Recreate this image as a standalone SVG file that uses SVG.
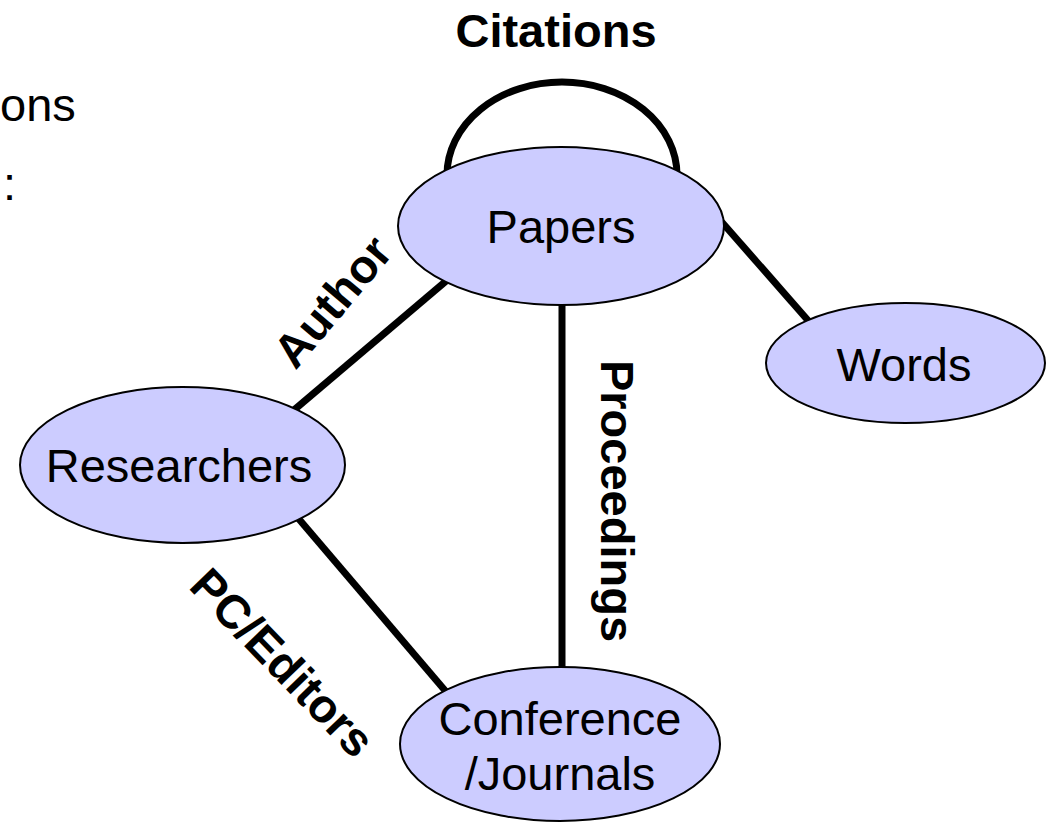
<svg xmlns="http://www.w3.org/2000/svg" width="1053" height="822" viewBox="0 0 1053 822">
<style>
.node{fill:#ccccff;stroke:#000;stroke-width:2}
.lbl{font-family:"Liberation Sans",Arial,sans-serif;font-size:47px;fill:#000;text-anchor:middle}
.edge{stroke:#000;stroke-width:7;fill:none}
.elbl{font-family:"Liberation Sans",Arial,sans-serif;font-size:47px;font-weight:bold;fill:#000;text-anchor:middle}
.bg{font-family:"Liberation Sans",Arial,sans-serif;font-size:47px;fill:#000}
</style>
<rect width="1053" height="822" fill="#fff"/>
<g id="background-text">
<text class="bg" x="0" y="121">ons</text>
<text class="bg" x="3" y="200">:</text>
</g>
<g id="connectors">
<path class="edge" d="M447,175 A115,93 0 0 1 677,175"/>
<line class="edge" x1="452" y1="276" x2="294" y2="410"/>
<line class="edge" x1="298" y1="518" x2="448" y2="694"/>
<line class="edge" x1="562" y1="295" x2="562" y2="675"/>
<line class="edge" x1="720" y1="220" x2="812" y2="325"/>
<text class="elbl" x="556" y="47">Citations</text>
<text class="elbl" transform="translate(345,312) rotate(-50)">Author</text>
<text class="elbl" transform="translate(601,501) rotate(90)">Proceedings</text>
<text class="elbl" transform="translate(271,674) rotate(46)">PC/Editors</text>
</g>
<g id="papers">
<ellipse class="node" cx="561" cy="226" rx="163" ry="79"/>
<text class="lbl" x="561" y="243">Papers</text>
</g>
<g id="words">
<ellipse class="node" cx="905.5" cy="363" rx="139.5" ry="60"/>
<text class="lbl" x="904" y="381">Words</text>
</g>
<g id="researchers">
<ellipse class="node" cx="182.5" cy="465" rx="162.5" ry="78"/>
<text class="lbl" x="179" y="482">Researchers</text>
</g>
<g id="conference">
<ellipse class="node" cx="560" cy="744" rx="160" ry="77"/>
<text class="lbl" x="560" y="735">Conference</text>
<text class="lbl" x="560" y="790">/Journals</text>
</g>
</svg>
